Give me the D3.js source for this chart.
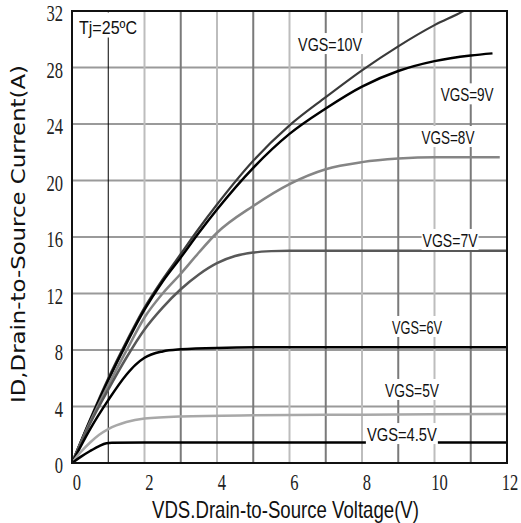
<!DOCTYPE html>
<html><head><meta charset="utf-8">
<script src="https://cdn.jsdelivr.net/npm/d3@7"></script>
<style>
html,body{margin:0;padding:0;background:#fff;overflow:hidden}
.tick{font-family:"Liberation Serif","DejaVu Serif","Noto Serif",serif;font-size:23px;fill:#222}
.lbl{font-family:"Liberation Sans Narrow","Liberation Sans",Arial,sans-serif;fill:#111}
.ytitle{font-family:"DejaVu Sans","Liberation Sans",sans-serif;fill:#111}
</style>
</head><body><svg id="c" width="521" height="523"></svg>
<script>
// ---- data ----
const xTicks = [0, 2, 4, 6, 8, 10, 12];
const yTicks = [0, 4, 8, 12, 16, 20, 24, 28, 32];
const xGrid = [1, 2, 3, 4, 5, 6, 7, 8, 9, 10, 11];
const seriesNames = ["VGS=10V", "VGS=9V", "VGS=8V", "VGS=7V", "VGS=6V", "VGS=5V", "VGS=4.5V"];

const vds10 = [0, 0.5, 1, 1.5, 2, 2.5, 3, 3.5, 4, 5, 6, 7, 8, 9, 10, 10.8, 11];
const id10  = [0, 3.1, 6.0, 8.6, 11.0, 13.0, 14.8, 16.6, 18.3, 21.4, 23.9, 25.9, 27.8, 29.5, 31.0, 32.0, 32.3];
const vds9  = [0, 0.5, 1, 1.5, 2, 2.5, 3, 3.5, 4, 5, 6, 7, 8, 9, 10, 11, 11.6];
const id9   = [0, 3.0, 5.85, 8.45, 10.85, 12.85, 14.55, 16.3, 17.95, 20.9, 23.3, 25.1, 26.65, 27.75, 28.45, 28.85, 29.0];
const vds8  = [0, 0.5, 1, 1.5, 2, 2.5, 3, 3.5, 4, 5, 6, 7, 8, 9, 10, 11.8];
const id8   = [0, 2.9, 5.5, 7.95, 10.3, 12.0, 13.4, 14.9, 16.3, 18.2, 19.75, 20.8, 21.3, 21.55, 21.65, 21.65];
const vds7  = [0, 0.5, 1, 1.5, 2, 2.5, 3, 3.5, 4, 4.5, 5, 5.5, 6, 12];
const id7   = [0, 2.8, 5.2, 7.45, 9.45, 11.0, 12.3, 13.35, 14.15, 14.65, 14.9, 15.0, 15.03, 15.03];
const vds6  = [0, 0.5, 1, 1.5, 1.75, 2, 2.5, 3, 4, 6, 12];
const id6   = [0, 2.4, 4.45, 6.25, 6.95, 7.45, 7.9, 8.05, 8.15, 8.2, 8.2];
const vds5  = [0, 0.25, 0.5, 0.75, 1, 1.5, 2, 3, 5, 8, 12];
const id5   = [0, 0.8, 1.45, 2.0, 2.4, 2.9, 3.15, 3.3, 3.38, 3.42, 3.47];
const vds45 = [0, 0.25, 0.5, 0.75, 0.95, 1.1, 2, 12];
const id45  = [0, 0.45, 0.85, 1.2, 1.4, 1.44, 1.45, 1.45];

// ---- layout / style ----
const W = 521, H = 523;
const plot = {left: 72, right: 507, top: 11, bottom: 463};
const seriesStyle = [
  {color: "#3a3a3a", width: 2.2},
  {color: "#000000", width: 2.5},
  {color: "#858585", width: 2.5},
  {color: "#585858", width: 2.5},
  {color: "#000000", width: 2.5},
  {color: "#a8a8a8", width: 2.5},
  {color: "#000000", width: 2.5}
];
const labelAnchor = [[7.12, 29.66], [10.9, 26.1], [10.37, 23.08], [10.43, 15.79], [9.52, 9.63], [9.38, 5.17], [9.10, 2.05]];
const labelWidth = [64, 53, 53, 55, 50, 54, 70];
const tickSqueeze = 0.72;

const seriesX = [vds10, vds9, vds8, vds7, vds6, vds5, vds45];
const seriesY = [id10, id9, id8, id7, id6, id5, id45];

const svg = d3.select("#c");
svg.append("rect").attr("width", W).attr("height", H).attr("fill", "#fff");

const x = d3.scaleLinear().domain([0, 12]).range([plot.left, plot.right]);
const y = d3.scaleLinear().domain([0, 32]).range([plot.bottom, plot.top]);

svg.append("defs").append("clipPath").attr("id", "clip")
  .append("rect").attr("x", plot.left).attr("y", plot.top)
  .attr("width", plot.right - plot.left).attr("height", plot.bottom - plot.top);

// grid
const g = svg.append("g");
g.selectAll("line.h").data(yTicks).join("line")
  .attr("x1", plot.left).attr("x2", plot.right)
  .attr("y1", d => y(d)).attr("y2", d => y(d))
  .attr("stroke", "#9a9a9a").attr("stroke-width", 2);
g.selectAll("line.v").data(xGrid).join("line")
  .attr("x1", d => x(d)).attr("x2", d => x(d))
  .attr("y1", plot.top).attr("y2", plot.bottom)
  .attr("stroke", d => d === 1 ? "#000" : (d % 2 === 1 ? "#7a7a7a" : "#bdbdbd"))
  .attr("stroke-width", d => d === 1 ? 1 : 2);

// curves
const line = d3.line().x(d => x(d[0])).y(d => y(d[1])).curve(d3.curveMonotoneX);
const cg = svg.append("g").attr("clip-path", "url(#clip)");
seriesX.forEach((xs, i) => {
  const pts = xs.map((v, j) => [v, seriesY[i][j]]);
  cg.append("path").attr("d", line(pts)).attr("fill", "none")
    .attr("stroke", seriesStyle[i].color).attr("stroke-width", seriesStyle[i].width)
    .attr("stroke-linejoin", "round");
});

// labels
const lab = svg.append("g");
seriesNames.forEach((name, i) => {
  const cx = x(labelAnchor[i][0]), cy = y(labelAnchor[i][1]);
  const w = labelWidth[i];
  lab.append("rect").attr("x", cx - w / 2 - 1).attr("y", cy - 11)
    .attr("width", w + 2).attr("height", 21).attr("fill", "#fff");
  lab.append("text").attr("class", "lbl").attr("x", cx).attr("y", cy + 7)
    .attr("text-anchor", "middle").style("font-size", "19px")
    .attr("textLength", w).attr("lengthAdjust", "spacingAndGlyphs")
    .text(name);
});

// Tj label
lab.append("rect").attr("x", 75).attr("y", 12.5).attr("width", 66).attr("height", 25).attr("fill", "#fff");
lab.append("text").attr("class", "lbl").attr("x", 108).attr("y", 33.5)
  .attr("text-anchor", "middle").style("font-size", "19px")
  .attr("textLength", 58).attr("lengthAdjust", "spacingAndGlyphs")
  .text("Tj=25ºC");

// frame
svg.append("rect").attr("x", plot.left).attr("y", plot.top)
  .attr("width", plot.right - plot.left).attr("height", plot.bottom - plot.top)
  .attr("fill", "none").attr("stroke", "#111").attr("stroke-width", 2);

// tick labels (horizontally condensed serif digits)
svg.append("g").selectAll("text").data(yTicks).join("text")
  .attr("class", "tick")
  .attr("transform", d => `translate(63,${y(d) + 10}) scale(${tickSqueeze},1)`)
  .attr("text-anchor", "end")
  .text(d => d);
svg.append("g").selectAll("text").data(xTicks).join("text")
  .attr("class", "tick")
  .attr("transform", d => `translate(${d === 12 ? x(d) + 3 : x(d) + 5},490) scale(${tickSqueeze},1)`)
  .attr("text-anchor", "middle")
  .text(d => d);

// axis titles
svg.append("text").attr("class", "lbl").attr("x", 285.5).attr("y", 518)
  .attr("text-anchor", "middle").style("font-size", "24px")
  .attr("textLength", 267).attr("lengthAdjust", "spacingAndGlyphs")
  .text("VDS.Drain-to-Source Voltage(V)");
svg.append("text").attr("class", "ytitle").attr("transform", "translate(25,234) rotate(-90)")
  .attr("text-anchor", "middle").style("font-size", "20px")
  .attr("textLength", 338).attr("lengthAdjust", "spacingAndGlyphs")
  .text("ID,Drain-to-Source Current(A)");
</script></body></html>
